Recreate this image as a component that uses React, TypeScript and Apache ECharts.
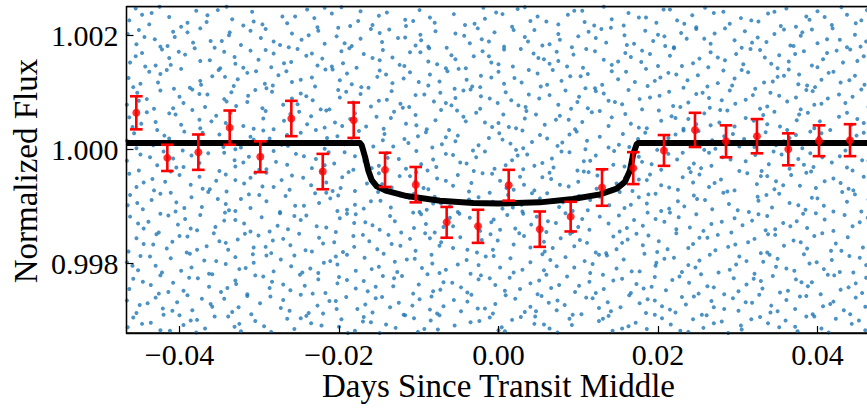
import React, { useEffect, useRef } from "react";
import * as echarts from "echarts";

// Binned points (red): time in days, normalized flux, 1-sigma error
const binX = [-0.04542, -0.04153, -0.03764, -0.03371, -0.02987, -0.02598, -0.02204, -0.01816, -0.01423, -0.01038, -0.0065, -0.00257, 0.00128, 0.00517, 0.00905, 0.01298, 0.0169, 0.02075, 0.02464, 0.02853, 0.03241, 0.03634, 0.04019, 0.04408];
const binY = [1.00064, 0.99985, 0.99995, 1.00038, 0.99987, 1.00054, 0.99961, 1.00051, 0.99964, 0.99938, 0.99872, 0.99865, 0.99937, 0.9986, 0.99882, 0.99933, 0.99967, 0.99998, 1.00034, 1.00014, 1.00023, 1.0, 1.00015, 1.00016];
const binErr = [0.00029, 0.00023, 0.00031, 0.0003, 0.00027, 0.00031, 0.00031, 0.00031, 0.0003, 0.00031, 0.00027, 0.00029, 0.00027, 0.00031, 0.00026, 0.00032, 0.00028, 0.00027, 0.0003, 0.00028, 0.0003, 0.00028, 0.00027, 0.00028];

// Transit model (black)
const modelX = [-0.0467, -0.01737, -0.01715, -0.01674, -0.01633, -0.0159, -0.01527, -0.01402, -0.01151, -0.00734, -0.00316, 0, 0.0052, 0.00934, 0.01273, 0.01482, 0.01586, 0.01649, 0.0169, 0.01733, 0.0175, 0.0467];
const modelY = [1.00011, 1.00011, 1.00007, 0.99987, 0.99963, 0.99946, 0.99935, 0.99927, 0.99918, 0.9991, 0.99906, 0.99905, 0.99907, 0.99913, 0.99921, 0.99931, 0.99943, 0.99963, 0.99992, 1.00009, 1.00011, 1.00011];

// Raw photometry (blue), flat pairs: time in 1e-4 days, flux offset from 1 in 1e-5
const rawPairs = [
-465,-312,-458,-295,-439,-324,-436,-304,-424,-317,-400,-291,-395,-308,-379,-321,-378,-299,-368,-314,-347,-326,-339,-293,-325,-306,-323,-319,-305,-301,-294,-310,-269,-323,-265,-297,-256,-315,-241,-292,-235,-305,-213,-325,-200,-311,-197,-298,-180,-318,-170,-302,-169,-294,-149,-322,-141,-307,-129,-313,-106,-296,-101,-320,-85,-300,-76,-316,-74,-291,-55,-309,-41,-326,-35,-303,-11,-295,0,-317,4,-312,17,-299,38,-323,45,-306,46,-293,64,-314,74,-321,89,-297,92,-308,118,-325,126,-301,138,-292,143,-318,163,-310,172,-304,186,-315,188,-324,205,-296,216,-307,238,-320,244,-298,257,-313,261,-291,280,-302,288,-322,304,-309,305,-316,328,-294,338,-305,345,-326,360,-300,372,-311,375,-319,396,-293,405,-314,423,-297,437,-323,443,-306,460,-317,
-447,-306,-412,-318,-386,-300,-356,-293,-331,-311,-285,-320,-248,-296,-222,-309,-189,-322,-160,-303,-117,-291,-93,-315,-63,-325,-24,-301,8,-319,28,-294,57,-307,103,-323,131,-297,155,-314,196,-290,228,-318,270,-305,296,-325,317,-298,352,-312,386,-293,414,-321,452,-300,
-466,-265,-454,-287,-450,-273,-430,-260,-421,-279,-420,-290,-403,-268,-390,-256,-384,-282,-361,-271,-359,-276,-344,-262,-334,-285,-315,-257,-310,-289,-299,-270,-273,-278,-270,-264,-262,-283,-248,-255,-227,-274,-220,-288,-204,-266,-203,-280,-191,-259,-167,-272,-158,-286,-154,-261,-136,-277,-125,-269,-119,-290,-99,-263,-86,-281,-84,-258,-69,-275,-47,-284,-39,-267,-34,-255,-17,-279,-7,-288,-4,-271,21,-262,33,-285,40,-276,54,-257,73,-282,74,-265,83,-273,104,-289,110,-260,126,-278,137,-268,141,-284,164,-256,177,-270,185,-287,187,-263,205,-275,215,-281,230,-259,235,-272,255,-290,267,-266,270,-277,294,-261,301,-283,318,-269,327,-255,341,-286,342,-274,361,-264,372,-280,378,-258,394,-289,416,-271,420,-267,433,-282,448,-260,460,-276,
-440,-270,-409,-283,-372,-262,-326,-277,-286,-258,-238,-287,-212,-266,-177,-280,-146,-259,-108,-274,-77,-288,-56,-264,-26,-279,9,-256,47,-284,63,-269,93,-290,118,-261,153,-277,196,-265,222,-286,245,-258,283,-280,310,-268,350,-284,386,-257,407,-275,441,-289,466,-262,
-463,-245,-458,-227,-436,-238,-426,-253,-424,-221,-408,-234,-395,-248,-388,-225,-363,-241,-359,-219,-348,-250,-330,-230,-329,-236,-315,-254,-295,-223,-287,-243,-284,-232,-261,-247,-249,-220,-243,-239,-226,-228,-217,-252,-202,-235,-200,-224,-179,-244,-169,-231,-164,-249,-145,-222,-132,-240,-131,-226,-107,-253,-100,-237,-89,-219,-73,-246,-69,-233,-47,-242,-39,-251,-25,-228,-22,-221,-4,-238,8,-248,14,-225,40,-235,49,-254,51,-230,66,-243,86,-223,96,-250,101,-239,114,-232,131,-220,132,-245,155,-227,166,-252,173,-236,192,-241,196,-224,210,-247,218,-229,239,-234,251,-253,254,-219,270,-242,295,-226,301,-249,311,-237,329,-231,331,-244,344,-222,353,-251,373,-228,388,-240,393,-233,404,-254,421,-221,429,-246,448,-235,461,-225,
-446,-232,-414,-250,-377,-226,-340,-243,-305,-221,-270,-237,-233,-253,-190,-229,-154,-241,-121,-222,-82,-249,-58,-234,-11,-226,27,-245,60,-220,76,-238,122,-252,144,-230,182,-244,227,-223,262,-240,283,-254,320,-227,363,-248,380,-233,413,-220,439,-242,456,-252,
-466,-198,-452,-212,-449,-187,-430,-204,-422,-216,-411,-191,-387,-183,-385,-207,-369,-195,-363,-218,-342,-201,-330,-189,-325,-210,-308,-184,-307,-199,-282,-214,-273,-193,-260,-205,-256,-186,-236,-209,-226,-217,-211,-196,-204,-188,-202,-202,-179,-213,-168,-190,-150,-206,-144,-183,-130,-197,-127,-215,-105,-192,-96,-208,-84,-185,-83,-200,-66,-211,-40,-194,-35,-218,-25,-203,-6,-187,2,-207,15,-191,19,-216,40,-198,55,-184,57,-212,73,-205,84,-189,108,-196,115,-217,118,-201,136,-186,148,-209,157,-193,177,-214,183,-183,197,-204,198,-199,220,-190,230,-215,247,-207,252,-195,265,-185,290,-211,298,-202,302,-188,321,-218,332,-197,348,-206,350,-192,371,-213,383,-184,390,-200,408,-210,418,-194,440,-187,445,-216,461,-203,
-459,-204,-437,-188,-398,-213,-354,-196,-317,-208,-291,-186,-246,-216,-219,-199,-190,-185,-159,-210,-115,-193,-74,-217,-51,-202,-16,-188,30,-211,65,-194,95,-207,126,-185,167,-214,208,-192,238,-203,276,-216,311,-196,340,-185,361,-209,399,-198,428,-215,453,-190,
-464,-179,-454,-156,-433,-167,-429,-149,-416,-174,-409,-162,-391,-181,-390,-153,-366,-170,-357,-147,-342,-164,-339,-176,-327,-158,-307,-172,-301,-151,-285,-182,-283,-160,-261,-168,-250,-148,-242,-177,-225,-155,-220,-165,-195,-180,-182,-152,-181,-171,-162,-161,-152,-175,-138,-150,-134,-166,-111,-157,-104,-178,-92,-147,-74,-169,-72,-163,-57,-173,-48,-154,-27,-181,-21,-159,-10,-149,-7,-176,19,-167,32,-152,40,-172,57,-162,58,-179,78,-156,90,-148,95,-170,111,-164,135,-182,144,-153,148,-175,162,-158,181,-168,188,-151,199,-180,201,-161,223,-147,238,-173,244,-166,262,-155,272,-177,275,-150,288,-171,313,-163,321,-157,337,-181,338,-149,358,-169,370,-160,387,-174,396,-152,417,-178,423,-165,438,-154,457,-172,
-445,-166,-400,-152,-378,-176,-350,-161,-318,-148,-292,-171,-270,-157,-234,-179,-206,-163,-170,-150,-123,-169,-86,-156,-39,-176,-1,-160,26,-147,68,-173,102,-159,122,-181,155,-164,173,-148,212,-175,252,-155,297,-167,329,-182,347,-150,379,-163,406,-147,430,-178,466,-160,
-462,-118,-445,-139,-439,-127,-426,-146,-424,-113,-402,-132,-393,-122,-378,-142,-374,-115,-355,-136,-344,-125,-343,-111,-319,-130,-311,-144,-297,-119,-277,-134,-274,-112,-264,-140,-248,-124,-241,-116,-216,-137,-204,-145,-199,-121,-181,-129,-179,-114,-158,-133,-149,-141,-136,-117,-130,-126,-107,-111,-106,-138,-91,-131,-80,-146,-61,-120,-57,-135,-49,-113,-23,-143,-9,-128,-6,-123,11,-115,21,-139,41,-132,48,-118,60,-145,62,-126,84,-112,100,-136,105,-122,114,-141,138,-130,151,-116,152,-144,170,-124,181,-134,187,-111,208,-127,223,-140,226,-119,240,-137,248,-114,267,-131,292,-146,296,-121,306,-133,318,-125,335,-142,337,-117,357,-129,366,-135,382,-113,387,-138,409,-123,420,-143,434,-115,453,-128,463,-120,
-452,-130,-414,-116,-386,-139,-330,-124,-287,-144,-256,-117,-228,-135,-190,-113,-167,-128,-122,-146,-97,-114,-69,-136,-36,-120,2,-141,31,-113,72,-129,93,-145,127,-118,161,-138,197,-122,215,-111,257,-143,280,-127,326,-114,347,-140,374,-126,398,-112,444,-135,
-465,-98,-462,-80,-446,-105,-435,-89,-411,-76,-405,-109,-404,-93,-385,-84,-372,-101,-364,-75,-342,-96,-338,-107,-323,-87,-313,-79,-311,-103,-291,-91,-274,-110,-267,-82,-255,-99,-230,-77,-225,-94,-211,-86,-202,-108,-201,-81,-180,-97,-169,-104,-151,-75,-148,-90,-135,-102,-112,-85,-106,-78,-90,-106,-82,-95,-80,-83,-61,-100,-51,-110,-37,-88,-11,-76,-7,-92,5,-104,12,-80,29,-97,30,-109,52,-86,61,-77,76,-101,81,-93,101,-82,112,-107,115,-89,139,-98,152,-75,158,-103,176,-84,186,-95,188,-79,204,-108,225,-91,233,-100,245,-81,249,-87,268,-105,282,-76,289,-96,314,-110,325,-83,326,-90,343,-102,352,-78,365,-94,385,-106,393,-85,408,-99,431,-75,437,-92,455,-109,464,-88,
-453,-94,-424,-78,-394,-103,-352,-87,-330,-108,-300,-80,-244,-99,-216,-76,-190,-106,-160,-91,-123,-81,-99,-110,-72,-95,-25,-84,18,-102,42,-77,69,-92,93,-108,127,-83,166,-97,197,-78,214,-104,259,-89,300,-107,336,-80,376,-98,400,-86,420,-109,447,-79,
-463,-43,-454,-66,-434,-52,-432,-72,-418,-57,-411,-39,-386,-62,-375,-48,-371,-69,-354,-55,-342,-44,-341,-74,-319,-60,-311,-50,-296,-65,-291,-41,-272,-54,-262,-71,-259,-46,-235,-63,-222,-39,-216,-58,-198,-68,-196,-49,-180,-73,-159,-53,-150,-42,-146,-61,-134,-67,-111,-47,-104,-56,-103,-40,-88,-70,-77,-51,-57,-64,-51,-45,-37,-74,-34,-59,-8,-43,2,-55,10,-68,27,-48,32,-62,45,-72,64,-41,66,-52,88,-65,100,-57,107,-39,123,-69,124,-46,148,-60,159,-50,168,-73,186,-54,190,-44,204,-63,225,-71,231,-49,241,-40,244,-58,264,-66,279,-53,287,-74,312,-42,324,-61,329,-47,346,-70,348,-56,367,-45,378,-64,392,-39,398,-68,420,-51,429,-59,445,-72,458,-48,
-445,-58,-400,-45,-362,-70,-330,-54,-305,-41,-282,-66,-245,-50,-208,-73,-188,-40,-165,-60,-124,-47,-94,-68,-66,-55,-20,-42,19,-71,55,-49,77,-62,113,-40,136,-74,176,-53,214,-67,252,-44,271,-59,296,-72,337,-47,357,-63,386,-41,409,-56,439,-69,465,-50,
-466,-20,-451,-37,-449,-9,-428,-28,-420,-4,-408,-16,-404,-32,-385,-11,-375,-24,-350,-38,-344,-6,-331,-19,-330,-30,-313,-13,-291,-35,-282,-3,-279,-22,-265,-27,-254,-8,-234,-33,-229,-17,-213,-5,-206,-25,-182,-36,-180,-12,-168,-21,-150,-29,-140,-7,-139,-15,-116,-34,-103,-3,-97,-26,-82,-18,-78,-31,-57,-10,-48,-23,-31,-38,-28,-14,-17,-4,9,-28,17,-19,31,-35,36,-9,55,-24,67,-16,69,-32,89,-5,99,-37,115,-20,122,-11,144,-27,145,-3,158,-30,176,-13,180,-22,204,-36,213,-8,224,-18,239,-33,245,-25,264,-6,267,-29,281,-14,302,-38,310,-21,322,-10,339,-26,345,-4,365,-34,376,-17,391,-7,395,-31,418,-23,428,-12,444,-37,456,-19,
-437,-14,-395,-31,-364,-7,-320,-23,-300,-36,-244,-12,-218,-28,-193,-5,-159,-33,-125,-17,-89,-37,-66,-8,-40,-25,-5,-34,24,-11,45,-29,79,-4,107,-21,132,-36,167,-10,192,-26,231,-6,254,-33,291,-18,330,-38,355,-9,383,-27,406,-14,437,-32,464,-20,
-466,15,-457,28,-454,2,-433,7,-419,24,-413,19,-396,-2,-394,31,-383,10,-358,13,-350,26,-345,4,-330,0,-311,22,-307,17,-295,33,-272,8,-265,25,-264,6,-248,29,-238,12,-218,1,-215,20,-202,23,-193,9,-175,32,-169,-1,-145,16,-143,27,-132,5,-118,18,-113,11,-91,30,-83,3,-66,21,-54,14,-51,24,-32,-2,-25,7,1,28,5,17,15,10,30,33,31,2,52,25,61,19,74,6,80,12,98,31,109,0,111,15,127,22,151,8,156,27,164,4,184,29,196,13,199,-1,213,20,222,26,244,9,251,32,268,16,272,1,283,23,302,5,308,18,333,11,335,30,348,7,358,14,373,25,381,2,402,21,405,28,417,10,435,-2,440,17,449,24,465,6,
-440,11,-371,29,-323,3,-287,19,-229,34,-184,14,-157,5,-101,23,-71,9,-12,20,22,-1,42,13,89,26,138,3,175,18,232,33,258,-1,294,27,321,4,365,20,391,31,427,13,458,29,
-463,56,-459,39,-441,65,-430,48,-428,34,-405,61,-398,43,-384,69,-375,52,-374,37,-354,59,-342,46,-336,64,-320,41,-295,54,-292,67,-282,35,-269,50,-261,62,-240,44,-235,58,-218,38,-216,68,-205,47,-186,53,-180,63,-166,40,-144,36,-135,55,-131,66,-116,45,-104,60,-103,42,-79,51,-72,69,-62,34,-44,57,-41,49,-28,64,-8,39,0,46,6,61,22,37,33,54,35,67,58,43,72,52,77,59,96,35,105,48,117,65,138,41,142,56,159,62,166,45,176,38,201,68,204,50,217,58,232,36,238,53,258,63,266,42,277,47,278,69,296,40,310,55,332,60,337,44,346,66,362,34,374,51,377,61,396,37,403,49,427,57,437,64,443,43,458,46,
-448,45,-413,63,-360,49,-307,36,-250,66,-196,41,-153,57,-90,35,-52,68,-17,47,13,39,47,61,88,52,127,67,186,37,222,55,248,44,287,68,320,50,353,40,388,64,416,34,450,53,
-466,78,-453,99,-451,85,-432,71,-424,103,-400,92,-395,81,-384,105,-368,74,-365,96,-344,88,-335,100,-329,76,-315,83,-314,94,-296,72,-284,101,-259,89,-252,79,-248,98,-233,86,-223,70,-201,104,-199,91,-182,82,-173,97,-160,75,-140,87,-134,102,-123,80,-120,73,-104,95,-81,84,-73,99,-59,77,-54,90,-35,105,-23,71,-22,93,-1,81,9,100,16,86,34,74,38,96,51,89,75,78,84,103,99,83,101,92,112,72,132,98,138,85,155,79,163,104,177,88,180,70,202,94,214,101,219,76,238,82,248,97,264,90,265,73,290,103,297,80,310,87,319,95,337,75,341,99,362,84,373,91,379,70,394,102,396,78,413,89,427,96,435,81,455,105,464,74,
-441,88,-408,72,-375,97,-341,84,-305,104,-270,78,-241,93,-212,70,-191,101,-150,85,-112,74,-93,96,-66,81,-44,103,-11,89,25,77,64,95,91,71,122,102,146,83,190,91,228,74,256,99,280,86,328,71,352,94,386,104,405,80,444,92,
-464,125,-458,109,-438,136,-427,117,-424,132,-407,106,-398,141,-374,120,-373,113,-359,128,-351,139,-332,111,-327,123,-315,134,-293,115,-291,107,-276,130,-266,137,-259,118,-234,126,-230,110,-217,140,-199,121,-190,133,-184,114,-163,108,-152,127,-149,138,-133,116,-119,124,-111,135,-88,112,-86,131,-74,119,-55,106,-50,141,-40,122,-23,109,-22,129,0,136,7,115,20,125,29,117,49,133,53,110,68,139,79,120,103,128,109,107,112,132,130,113,142,137,150,123,171,118,185,141,187,111,203,126,213,134,232,108,237,121,250,130,275,116,282,138,293,112,296,124,313,135,322,106,344,119,350,127,364,140,376,114,377,131,397,109,405,122,420,136,429,117,447,129,459,113,
-449,115,-416,139,-387,108,-343,127,-304,137,-283,112,-248,122,-208,140,-172,109,-141,131,-100,118,-64,137,-33,110,-9,126,38,139,61,113,90,128,121,107,160,136,196,120,223,131,262,110,305,139,333,117,358,129,387,112,414,134,440,121,
-462,152,-447,169,-443,145,-422,175,-413,160,-411,148,-393,166,-381,177,-374,155,-349,142,-344,171,-331,162,-330,150,-311,173,-301,157,-285,144,-282,168,-260,153,-252,176,-241,164,-227,147,-221,159,-197,172,-195,151,-178,143,-169,167,-149,156,-145,174,-133,161,-118,146,-111,170,-88,154,-87,177,-77,149,-59,165,-54,158,-41,142,-20,172,-12,163,-9,152,7,175,18,145,44,168,50,160,64,150,73,171,75,155,94,166,106,143,110,176,132,157,142,148,159,169,166,162,179,153,180,173,200,146,215,164,220,177,244,151,252,159,263,144,266,170,284,156,298,167,307,149,328,174,334,161,350,142,352,165,364,154,383,172,393,147,407,158,412,169,432,152,441,175,458,163,
-455,163,-430,147,-401,171,-362,156,-320,143,-292,174,-269,151,-234,168,-209,145,-187,177,-158,160,-124,148,-98,170,-66,142,-31,163,0,149,28,176,57,158,86,145,121,172,150,154,190,167,230,146,275,161,316,176,342,150,372,167,400,144,424,173,450,155,
-465,202,-454,184,-451,209,-431,193,-424,180,-408,206,-406,197,-383,187,-374,212,-361,190,-356,178,-338,200,-337,205,-323,183,-298,195,-292,211,-282,189,-263,179,-259,203,-247,192,-226,208,-218,185,-203,198,-201,213,-184,181,-173,194,-149,204,-146,188,-137,210,-117,196,-104,182,-98,201,-97,191,-79,207,-65,178,-43,199,-36,186,-26,212,-21,193,-5,205,7,180,33,197,37,189,45,209,64,184,75,202,77,192,92,179,113,206,122,195,135,187,141,213,158,200,161,183,184,208,194,190,208,198,209,181,229,204,236,194,248,211,266,185,271,203,296,191,305,178,309,207,325,196,336,188,358,210,366,182,379,199,381,205,400,186,412,193,419,212,437,179,447,201,461,189,
-444,197,-415,181,-390,205,-347,190,-311,208,-274,183,-238,200,-193,186,-160,211,-126,195,-88,180,-54,203,-12,189,19,209,55,182,100,198,129,211,170,185,200,201,220,179,258,194,284,212,318,187,346,202,370,181,393,210,428,192,454,180,
-463,226,-455,247,-438,219,-435,239,-413,232,-403,253,-398,215,-379,243,-366,223,-365,235,-341,250,-334,228,-320,217,-309,241,-307,224,-287,252,-271,233,-265,221,-240,245,-231,230,-227,214,-209,238,-197,249,-176,225,-173,242,-158,218,-150,234,-127,251,-117,227,-116,216,-99,244,-86,231,-80,222,-61,254,-56,237,-30,220,-19,248,-17,229,-3,240,17,215,24,246,40,225,49,233,71,252,75,219,87,236,105,243,108,223,132,250,142,228,157,217,163,239,176,231,197,253,198,222,215,245,224,226,243,235,248,214,259,248,282,241,290,220,304,230,306,251,326,224,338,238,354,216,361,247,386,233,390,227,400,242,418,218,421,252,437,236,448,221,462,244,
-447,236,-425,250,-390,222,-352,244,-296,219,-255,233,-218,248,-186,216,-140,240,-107,225,-70,251,-42,218,5,237,33,249,60,224,95,243,120,217,150,252,185,231,207,245,233,220,270,239,297,253,317,226,346,241,373,215,409,232,430,249,455,226
];

const FONT = '"Liberation Serif", "Times New Roman", serif';

const fmtX = (v: number) => {
  if (Math.abs(v) < 1e-9) return "0.00";
  const s = Math.abs(v).toFixed(2);
  return v < 0 ? "\u2212" + s : s;
};

export default function App() {
  const ref = useRef<HTMLDivElement>(null);
  useEffect(() => {
    if (!ref.current) return;
    const chart = echarts.init(ref.current, null, { renderer: "svg" });
    const raw: number[][] = [];
    for (let i = 0; i + 1 < rawPairs.length; i += 2) {
      raw.push([rawPairs[i] * 1e-4, 1 + rawPairs[i + 1] * 1e-5]);
    }
    const model = modelX.map((x, i) => [x, modelY[i]]);
    const bins = binX.map((x, i) => [x, binY[i], binErr[i]]);

    chart.setOption({
      animation: false,
      backgroundColor: "#ffffff",
      grid: {
        left: 126.5,
        top: 6.7,
        right: 4.5,
        bottom: 77,
        show: true,
        borderColor: "#000",
        borderWidth: 1.3,
        backgroundColor: "transparent",
      },
      xAxis: [
        {
          type: "value",
          min: -0.04665,
          max: 0.04665,
          minInterval: 0.02,
          maxInterval: 0.02,
          splitNumber: 5,
          z: 10,
          axisLine: { onZero: false, lineStyle: { color: "#000", width: 1.3 } },
          axisTick: { inside: true, length: 7, lineStyle: { color: "#000", width: 1.2 } },
          axisLabel: {
            formatter: fmtX,
            showMinLabel: false,
            showMaxLabel: false,
            color: "#000",
            fontFamily: FONT,
            fontSize: 30,
            margin: 6,
          },
          splitLine: { show: false },
        },
        {
          type: "value",
          position: "top",
          min: -0.04665,
          max: 0.04665,
          z: 10,
          axisLine: { onZero: false, lineStyle: { color: "#000", width: 1.3 } },
          axisTick: { show: false },
          axisLabel: { show: false },
          splitLine: { show: false },
        },
      ],
      yAxis: {
        type: "value",
        min: 0.99678,
        max: 1.0025,
        minInterval: 0.002,
        maxInterval: 0.002,
        splitNumber: 3,
        z: 10,
        axisLine: { onZero: false, lineStyle: { color: "#000", width: 1.3 } },
        axisTick: { inside: true, length: 7, lineStyle: { color: "#000", width: 1.2 } },
        axisLabel: {
          formatter: (v: number) => v.toFixed(3),
          showMinLabel: false,
          showMaxLabel: false,
          color: "#000",
          fontFamily: FONT,
          fontSize: 30,
          margin: 8,
        },
        splitLine: { show: false },
      },
      graphic: [
        {
          type: "text",
          x: 498.5,
          y: 386,
          style: {
            text: "Days Since Transit Middle",
            fill: "#000",
            fontFamily: FONT,
            fontSize: 33,
            align: "center",
            verticalAlign: "middle",
          },
        },
        {
          type: "text",
          x: 26,
          y: 171,
          rotation: Math.PI / 2,
          style: {
            text: "Normalized Flux",
            fill: "#000",
            fontFamily: FONT,
            fontSize: 33,
            align: "center",
            verticalAlign: "middle",
          },
        },
      ],
      series: [
        {
          type: "scatter",
          data: raw,
          symbol: "circle",
          symbolSize: 4,
          itemStyle: { color: "#1f77b4" },
          z: 2,
          progressive: 0,
          silent: true,
        },
        {
          type: "line",
          data: model,
          symbol: "none",
          lineStyle: { color: "#000", width: 6, join: "round", cap: "butt" },
          z: 4,
          silent: true,
        },
        {
          type: "custom",
          data: bins,
          encode: { x: 0, y: 1 },
          z: 5,
          silent: true,
          renderItem: (params: any, api: any) => {
            const x = api.value(0);
            const y = api.value(1);
            const e = api.value(2);
            const top = api.coord([x, y + e]);
            const bot = api.coord([x, y - e]);
            const cw = 6.3;
            const st = { stroke: "#ff0000", lineWidth: 2.6 };
            return {
              type: "group",
              children: [
                { type: "line", shape: { x1: top[0], y1: top[1], x2: bot[0], y2: bot[1] }, style: st },
                { type: "line", shape: { x1: top[0] - cw, y1: top[1], x2: top[0] + cw, y2: top[1] }, style: st },
                { type: "line", shape: { x1: bot[0] - cw, y1: bot[1], x2: bot[0] + cw, y2: bot[1] }, style: st },
              ],
            };
          },
        },
        {
          type: "scatter",
          data: bins.map((b) => [b[0], b[1]]),
          symbol: "circle",
          symbolSize: 8,
          itemStyle: { color: "#ff0000" },
          z: 6,
          silent: true,
        },
      ],
    });
    return () => chart.dispose();
  }, []);
  return (
    <div
      ref={ref}
      style={{ position: "fixed", left: 0, top: 0, width: 875, height: 410 }}
    />
  );
}
